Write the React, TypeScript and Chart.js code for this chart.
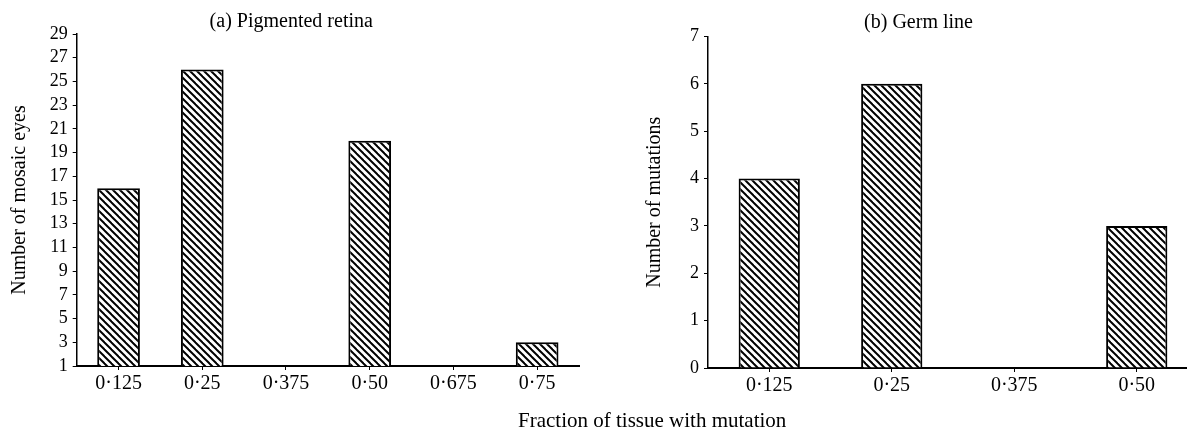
import React, { useEffect, useRef } from 'react';
import { Chart, registerables } from 'chart.js';

Chart.register(...registerables);

// ---- data ----
const retinaFractions = ['0·125', '0·25', '0·375', '0·50', '0·675', '0·75'];
const retinaMosaicEyes = [16, 26, 1, 20, 1, 3];
const retinaAxis = [1, 29, 2]; // min, max, step

const germFractions = ['0·125', '0·25', '0·375', '0·50'];
const germMutations = [4, 6, 0, 3];
const germAxis = [0, 7, 1];

const retinaTitle = '(a) Pigmented retina';
const germTitle = '(b) Germ line';
const retinaYTitle = 'Number of mosaic eyes';
const germYTitle = 'Number of mutations';
const xTitle = 'Fraction of tissue with mutation';

const FONT = "'Liberation Serif', 'Times New Roman', 'DejaVu Serif', serif";

function makeHatch(ctx: CanvasRenderingContext2D) {
  const s = 7;
  const c = document.createElement('canvas');
  c.width = s;
  c.height = s;
  const g = c.getContext('2d') as CanvasRenderingContext2D;
  g.fillStyle = '#fff';
  g.fillRect(0, 0, s, s);
  g.strokeStyle = '#000';
  g.lineWidth = 2;
  for (const k of [-1, 0, 1]) {
    g.beginPath();
    g.moveTo(-1, -1 + k * s);
    g.lineTo(s + 1, s + 1 + k * s);
    g.stroke();
  }
  return ctx.createPattern(c, 'repeat');
}

type PanelOpts = {
  labels: string[];
  values: number[];
  axis: number[];
  title: string;
  yTitle: string;
  padLeft: number;
  padRight: number;
  titleTop: number;
  titleBottom: number;
  yWidth: number;
  xHeight: number;
  barPct: number;
};

function makeChart(canvas: HTMLCanvasElement, o: PanelOpts) {
  const ctx = canvas.getContext('2d') as CanvasRenderingContext2D;
  const hatch = makeHatch(ctx);
  return new Chart(ctx, {
    type: 'bar',
    data: {
      labels: o.labels,
      datasets: [
        {
          data: o.values,
          backgroundColor: hatch as any,
          borderColor: '#000',
          borderWidth: 2,
          barPercentage: o.barPct,
          categoryPercentage: 1,
        },
      ],
    },
    options: {
      responsive: false,
      animation: false,
      layout: { padding: { left: o.padLeft, right: o.padRight, top: 0, bottom: 0 } },
      plugins: {
        legend: { display: false },
        tooltip: { enabled: false },
        title: {
          display: true,
          text: o.title,
          color: '#000',
          font: { family: FONT, size: 20, weight: 'normal' as any },
          padding: { top: o.titleTop, bottom: o.titleBottom },
        },
      },
      scales: {
        x: {
          offset: true,
          ticks: {
            color: '#000',
            font: { family: FONT, size: 20 },
            padding: 2,
            maxRotation: 0,
            autoSkip: false,
          },
          grid: {
            offset: false,
            drawOnChartArea: false,
            drawTicks: true,
            tickLength: 4,
            color: '#000',
            lineWidth: 1,
          },
          border: { display: true, color: '#000', width: 2 },
          afterFit: (s: any) => {
            s.height = o.xHeight;
          },
        },
        y: {
          min: o.axis[0],
          max: o.axis[1],
          ticks: {
            stepSize: o.axis[2],
            autoSkip: false,
            color: '#000',
            font: { family: FONT, size: 18 },
            padding: 5,
          },
          grid: {
            drawOnChartArea: false,
            drawTicks: true,
            tickLength: 4,
            color: '#000',
            lineWidth: 1,
          },
          border: { display: true, color: '#000', width: 1.5 },
          title: {
            display: true,
            text: o.yTitle,
            color: '#000',
            font: { family: FONT, size: 20 },
            padding: { top: 4, bottom: 4 },
          },
          afterFit: (s: any) => {
            s.width = o.yWidth;
          },
        },
      },
    },
  });
}

export default function App() {
  const leftRef = useRef<HTMLCanvasElement>(null);
  const rightRef = useRef<HTMLCanvasElement>(null);

  useEffect(() => {
    const left = makeChart(leftRef.current as HTMLCanvasElement, {
      labels: retinaFractions,
      values: retinaMosaicEyes,
      axis: retinaAxis,
      title: retinaTitle,
      yTitle: retinaYTitle,
      padLeft: 3.5,
      padRight: 21,
      titleTop: 10,
      titleBottom: 0,
      yWidth: 73.2,
      xHeight: 66,
      barPct: 0.51,
    });
    const right = makeChart(rightRef.current as HTMLCanvasElement, {
      labels: germFractions,
      values: germMutations,
      axis: germAxis,
      title: germTitle,
      yTitle: germYTitle,
      padLeft: 39,
      padRight: 22,
      titleTop: 10.5,
      titleBottom: 2,
      yWidth: 69,
      xHeight: 64,
      barPct: 0.5,
    });
    return () => {
      left.destroy();
      right.destroy();
    };
  }, []);

  return (
    <div
      style={{
        position: 'fixed',
        left: 0,
        top: 0,
        width: 1187,
        height: 432,
        overflow: 'hidden',
        background: '#fff',
      }}
    >
      <canvas
        ref={leftRef}
        width={600}
        height={432}
        style={{ position: 'absolute', left: 0, top: 0, width: 600, height: 432 }}
      />
      <canvas
        ref={rightRef}
        width={620}
        height={432}
        style={{ position: 'absolute', left: 600, top: 0, width: 620, height: 432 }}
      />
      <div
        style={{
          position: 'absolute',
          left: 518,
          top: 410,
          fontFamily: FONT,
          fontSize: 21,
          lineHeight: '21px',
          color: '#000',
          whiteSpace: 'nowrap',
        }}
      >
        {xTitle}
      </div>
    </div>
  );
}
